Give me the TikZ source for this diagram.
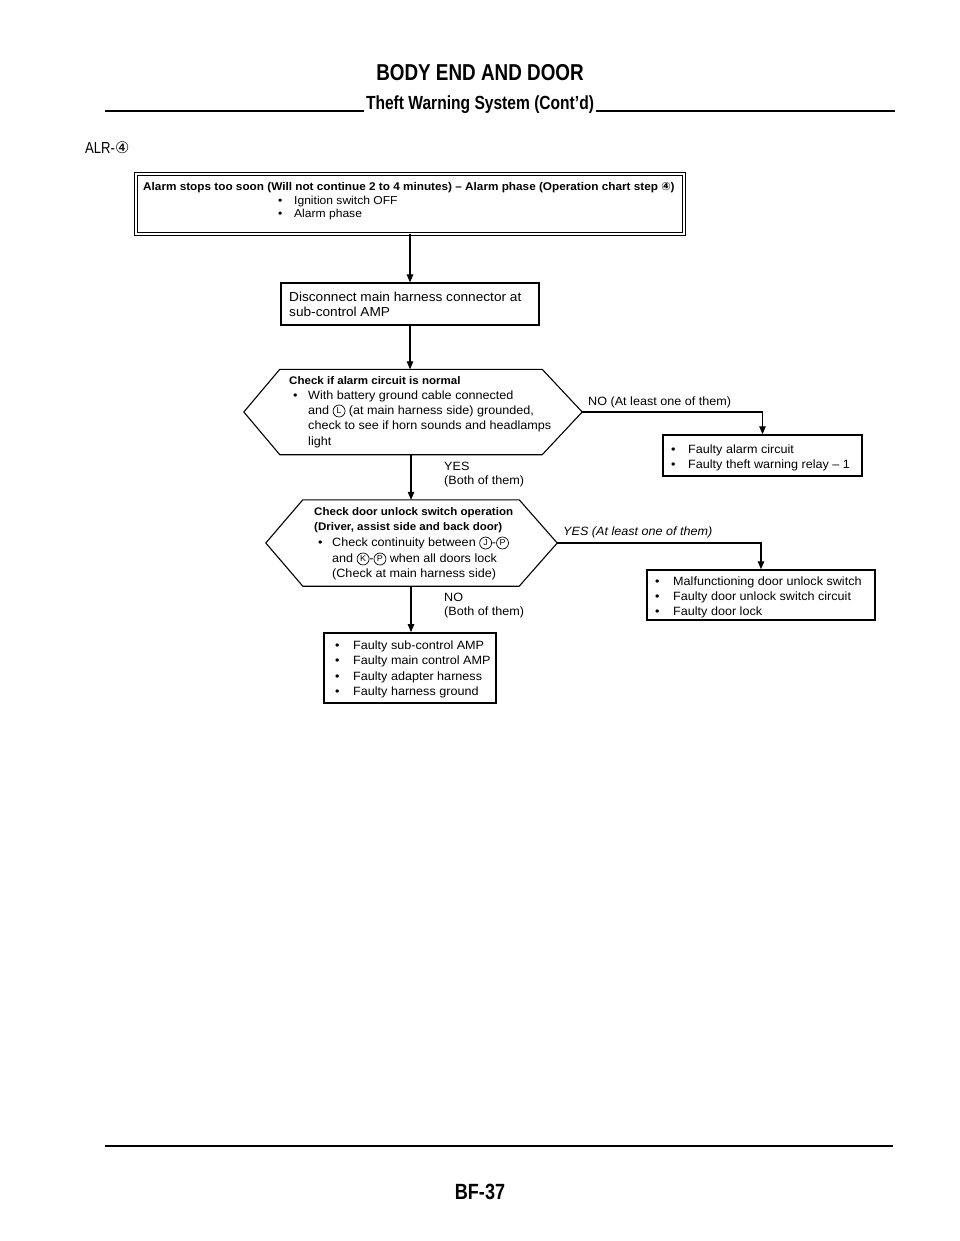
\documentclass[tikz,border=0pt]{standalone}
\usepackage{fontspec}
\setmainfont[FakeStretch=1.05]{Liberation Sans}
\newfontfamily\circfont{DejaVu Sans}
\newfontfamily\headfont[FakeStretch=0.82]{Liberation Sans}
\usetikzlibrary{arrows.meta,calc}
\newcommand\mybul[1]{\makebox[#1][l]{\textbullet}}
\newcommand\cch[1]{{\circfont #1}}
\newcommand\cletter[1]{\tikz[baseline={([yshift=-0.5pt]cl.base)}]\node[draw, circle, line width=0.7pt, inner sep=0pt, minimum size=12pt, font=\fontsize{8.5}{9}\selectfont] (cl) {#1};}
\tikzset{
  body/.style={inner sep=0pt, anchor=west, font=\fontsize{12}{15}\selectfont},
  bodyb/.style={body, font=\bfseries\fontsize{11}{15}\selectfont},
  bodyi/.style={body, font=\itshape\fontsize{12}{15}\selectfont},
  box/.style={draw, line width=1.2pt, inner sep=0pt},
  heavybox/.style={draw, line width=1.8pt, inner sep=0pt},
  frame/.style={draw=none, inner sep=0pt},
  hex/.style={draw, line width=1.1pt, line join=miter},
  arr/.style={line width=1.1pt, -{Triangle[width=6.5pt,length=8pt]}},
  rule/.style={line width=1.5pt},
}
\begin{document}
\begin{tikzpicture}[x=1pt,y=-1pt]
\fill[white] (0,0) rectangle (960,1241);
\useasboundingbox (0,0) rectangle (960,1241);

% header
\node[font=\headfont\bfseries\fontsize{23}{26}\selectfont, inner sep=0pt] (title) at (480,73) {BODY END AND DOOR};
\node[font=\headfont\bfseries\fontsize{19}{22}\selectfont, inner sep=0pt, anchor=base] (sub) at (480,110) {Theft Warning System (Cont’d)};
\coordinate (subL) at (105,111);
\coordinate (subR) at (895,111);
\draw[rule] (subL) -- ([xshift=-2pt]sub.west |- subL);
\draw[rule] ([xshift=2pt]sub.east |- subR) -- (subR);
\node[font=\headfont\fontsize{16}{18}\selectfont, inner sep=0pt, anchor=west] (alr) at (85,148) {ALR-\cch{④}};

% top box
\node[box, double, double distance=2.6pt, line width=0.8pt, minimum width=548pt, minimum height=60pt] (top) at (410,204) {};
\node[bodyb, font=\bfseries\fontsize{11.2}{14}\selectfont] (t1) at (143,188) {Alarm stops too soon (Will not continue 2 to 4 minutes) – Alarm phase (Operation chart step \cch{④})};
\node[body, font=\fontsize{11.5}{14}\selectfont] (t2) at (278,202) {\mybul{16pt}Ignition switch OFF};
\node[body, font=\fontsize{11.5}{14}\selectfont] (t3) at (278,215) {\mybul{16pt}Alarm phase};

% box 2
\node[box, minimum width=258pt, minimum height=42pt] (dis) at (410,304) {};
\node[body, font=\fontsize{13}{15}\selectfont] (dt1) at (289,297) {Disconnect main harness connector at};
\node[body, font=\fontsize{13}{15}\selectfont] (dt2) at (289,312) {sub-control AMP};

% diamond 1
\node[frame, minimum width=262pt, minimum height=85pt] (d1) at (411,412) {};
\coordinate (d1l) at ($(d1.west)+(-36,0)$);
\coordinate (d1r) at ($(d1.east)+(40,0)$);
\draw[hex] (d1.north west) -- (d1.north east) -- (d1r) -- (d1.south east) -- (d1.south west) -- (d1l) -- cycle;
\node[bodyb] (c1) at (289,381) {Check if alarm circuit is normal};
\node[body] (c2) at (293,396) {\mybul{15pt}With battery ground cable connected};
\node[body] (c3) at (308,411) {and \cletter{L} (at main harness side) grounded,};
\node[body] (c4) at (308,426) {check to see if horn sounds and headlamps};
\node[body] (c5) at (308,442) {light};

% diamond 2
\node[frame, minimum width=216pt, minimum height=86pt] (d2) at (411,543) {};
\coordinate (d2l) at ($(d2.west)+(-37,0)$);
\coordinate (d2r) at ($(d2.east)+(38,0)$);
\draw[hex] (d2.north west) -- (d2.north east) -- (d2r) -- (d2.south east) -- (d2.south west) -- (d2l) -- cycle;
\node[bodyb] (e1) at (314,513) {Check door unlock switch operation};
\node[bodyb] (e2) at (314,528) {(Driver, assist side and back door)};
\node[body] (e3) at (318,543) {\mybul{14pt}Check continuity between \cletter{J}-\cletter{P}};
\node[body] (e4) at (332,559) {and \cletter{K}-\cletter{P} when all doors lock};
\node[body] (e5) at (332,574) {(Check at main harness side)};

% right boxes
\node[box, line width=1.5pt, minimum width=199pt, minimum height=41pt] (f1) at (762.5,455.5) {};
\node[body] (f1a) at (671,450) {\mybul{17pt}Faulty alarm circuit};
\node[body] (f1b) at (671,465) {\mybul{17pt}Faulty theft warning relay – 1};

\node[box, line width=1.5pt, minimum width=228pt, minimum height=50pt] (f2) at (761,595) {};
\node[body] (f2a) at (655,582) {\mybul{18pt}Malfunctioning door unlock switch};
\node[body] (f2b) at (655,597) {\mybul{18pt}Faulty door unlock switch circuit};
\node[body] (f2c) at (655,612) {\mybul{18pt}Faulty door lock};

% bottom box
\node[heavybox, minimum width=172pt, minimum height=70pt] (fb) at (410,668) {};
\node[body] (g1) at (335,646) {\mybul{18pt}Faulty sub-control AMP};
\node[body] (g2) at (335,661) {\mybul{18pt}Faulty main control AMP};
\node[body] (g3) at (335,677) {\mybul{18pt}Faulty adapter harness};
\node[body] (g4) at (335,692) {\mybul{18pt}Faulty harness ground};

% connectors
\draw[arr] (top.south) -- (top.south |- dis.north);
\draw[arr] (dis.south) -- (dis.south |- d1.north);
\draw[arr] (d1.south) -- (d1.south |- d2.north);
\draw[arr] (d2.south) -- (d2.south |- fb.north);
\draw[arr] (d1r) -| (f1.north);
\draw[arr] (d2r) -| (f2.north);

% labels
\node[body] (y1a) at (444,466) {YES};
\node[body] (y1b) at (444,481) {(Both of them)};
\node[body] (n2a) at (444,597) {NO};
\node[body] (n2b) at (444,612) {(Both of them)};
\node[body] (nol) at (588,402) {NO (At least one of them)};
\node[bodyi] (yesl) at (563,532) {YES (At least one of them)};

% footer
\coordinate (fl) at (105,1146);
\coordinate (fr) at (893,1146);
\draw[line width=1.8pt] (fl) -- (fr);
\node[font=\headfont\bfseries\fontsize{22}{24}\selectfont, inner sep=0pt] (pg) at (480,1192) {BF-37};
\end{tikzpicture}
\end{document}
